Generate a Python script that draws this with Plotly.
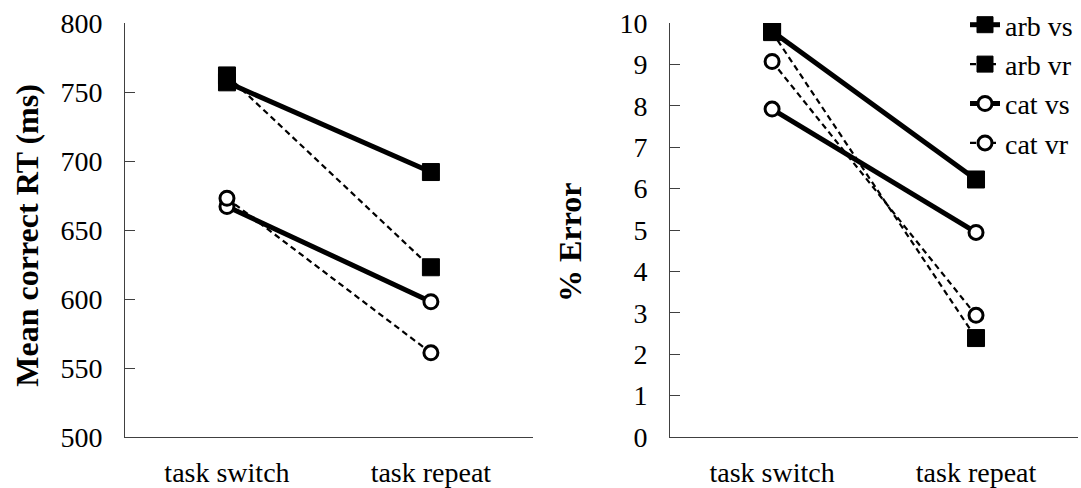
import plotly.graph_objects as go
from plotly.subplots import make_subplots

conditions = ["task switch", "task repeat"]
series_names = ["arb vs", "arb vr", "cat vs", "cat vr"]

rt_arb_vs = [757, 692]
rt_arb_vr = [762, 623]
rt_cat_vs = [667, 598]
rt_cat_vr = [673, 561]

err_arb_vs = [9.8, 6.22]
err_arb_vr = [9.78, 2.39]
err_cat_vs = [7.92, 4.94]
err_cat_vr = [9.07, 2.94]

rt_ticks = [500, 550, 600, 650, 700, 750, 800]
err_ticks = list(range(0, 11))

FONT = "Liberation Serif"

styles = {
    "arb vs": dict(line=dict(color="black", width=5), marker=dict(symbol="square", size=17, color="black", line=dict(color="black", width=1))),
    "arb vr": dict(line=dict(color="black", width=2.2, dash="6px,4px"), marker=dict(symbol="square", size=17, color="black", line=dict(color="black", width=1))),
    "cat vs": dict(line=dict(color="black", width=5), marker=dict(symbol="circle", size=14, color="white", line=dict(color="black", width=3))),
    "cat vr": dict(line=dict(color="black", width=2.2, dash="6px,4px"), marker=dict(symbol="circle", size=14, color="white", line=dict(color="black", width=3))),
}

fig = make_subplots(rows=1, cols=2, horizontal_spacing=0.144)

rt_series = [rt_arb_vs, rt_arb_vr, rt_cat_vs, rt_cat_vr]
err_series = [err_arb_vs, err_arb_vr, err_cat_vs, err_cat_vr]

for name, vals in zip(series_names, rt_series):
    fig.add_trace(go.Scatter(x=conditions, y=vals, mode="lines+markers", name=name,
                             showlegend=False, **styles[name]), row=1, col=1)

for name, vals in zip(series_names, err_series):
    fig.add_trace(go.Scatter(x=conditions, y=vals, mode="lines+markers", name=name,
                             showlegend=True, **styles[name]), row=1, col=2)

tick_font = dict(family=FONT, size=28, color="black")
x_common = dict(showline=True, linecolor="#404040", linewidth=1, showgrid=False, zeroline=False,
                range=[-0.5, 1.5], ticks="", tickfont=tick_font, ticklabelstandoff=10)
y_common = dict(showline=True, linecolor="#404040", linewidth=1, showgrid=False, zeroline=False,
                ticks="inside", ticklen=10, tickcolor="#404040", tickfont=tick_font,
                ticklabelstandoff=16)

fig.update_layout(
    width=1081, height=488,
    margin=dict(l=125, r=3, t=23, b=51, autoexpand=False),
    paper_bgcolor="white", plot_bgcolor="white",
    font=dict(family=FONT, size=28, color="black"),
    xaxis=dict(**x_common),
    xaxis2=dict(**x_common),
    yaxis=dict(**y_common, range=[500, 800], tickvals=rt_ticks),
    yaxis2=dict(**y_common, range=[0, 10], tickvals=err_ticks),
    legend=dict(x=1.0, xanchor="right", y=1.0, yanchor="top", yref="container",
                font=dict(family=FONT, size=28, color="black"),
                bgcolor="rgba(0,0,0,0)", tracegroupgap=0),
)

fig.add_annotation(text="<b>Mean correct RT (ms)</b>", xref="paper", yref="paper",
                   x=-0.103, y=0.486, xanchor="center", yanchor="middle", textangle=-90,
                   showarrow=False, font=dict(family=FONT, size=32, color="black"))
fig.add_annotation(text="<b>% Error</b>", xref="paper", yref="paper",
                   x=0.467, y=0.469, xanchor="center", yanchor="middle", textangle=-90,
                   showarrow=False, font=dict(family=FONT, size=32, color="black"))

fig.write_html("out.html")
